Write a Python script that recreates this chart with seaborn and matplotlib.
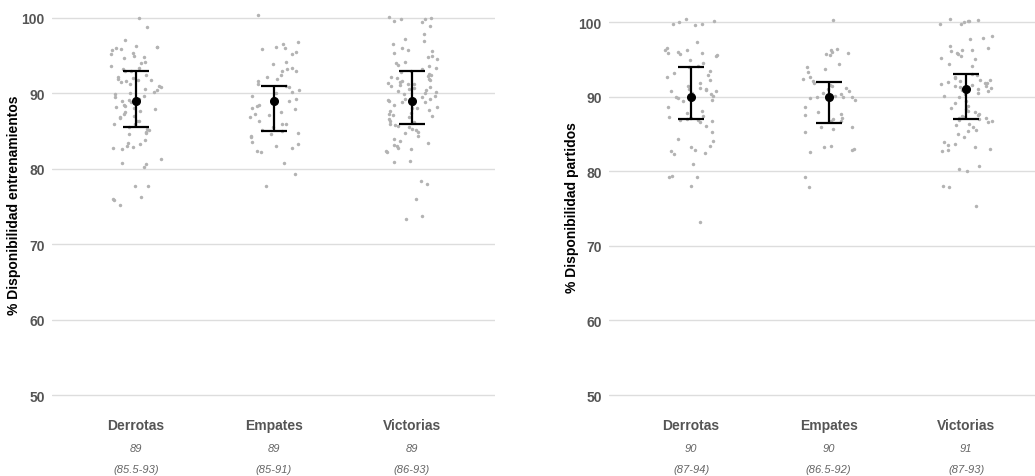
import numpy as np
import pandas as pd
import matplotlib
matplotlib.use("Agg")
import matplotlib.pyplot as plt
import seaborn as sns

categories = ["Derrotas", "Empates", "Victorias"]

# Panel 1: training availability (%)
train_derrotas = [100, 98.8, 97.1, 96.3, 96.2, 96.1, 96.0, 95.9, 95.8, 95.3, 95.2, 95.0, 94.8, 94.7,
                  94.1, 94.0, 93.6, 93.3, 93.2, 93.0, 92.9, 92.5, 92.0, 91.9, 91.8, 91.8, 91.7, 91.5,
                  91.2, 91.0, 90.9, 90.6, 90.5, 90.2, 90.0, 89.9, 89.6, 89.3, 89.1, 89.0, 88.9, 88.7,
                  88.5, 88.3, 88.0, 87.9, 87.7, 87.5, 87.3, 87.0, 86.9, 86.7, 86.4, 86.0, 85.9, 85.6,
                  85.3, 85.2, 84.9, 84.7, 84.6, 83.8, 83.4, 83.3, 83.0, 82.9, 82.7, 82.6, 81.3, 80.7,
                  80.6, 80.2, 77.7, 77.7, 76.2, 76.0, 75.8, 75.2, 92.2, 89.5, 88.2, 86.3]
train_empates = [100.4, 96.8, 96.5, 96.2, 96.0, 95.9, 95.5, 95.2, 94.2, 93.9, 93.4, 93.2, 93.0, 92.9,
                 92.5, 92.2, 91.9, 91.6, 91.3, 91.0, 90.8, 90.5, 90.2, 90.0, 89.6, 89.4, 89.2, 89.0,
                 88.9, 88.8, 88.5, 88.3, 88.1, 87.9, 87.5, 87.3, 87.1, 86.9, 86.4, 86.0, 85.9, 85.5,
                 85.1, 85.0, 84.8, 84.6, 84.4, 84.2, 83.6, 83.3, 83.0, 82.8, 82.4, 82.2, 80.7, 79.3, 77.7]
train_victorias = [100.1, 100.0, 99.9, 99.8, 99.6, 99.5, 98.9, 97.9, 97.2, 96.9, 96.5, 96.0, 95.8, 95.6,
                   95.3, 95.0, 94.8, 94.5, 94.2, 94.0, 93.8, 93.6, 93.4, 93.2, 93.0, 92.8, 92.6, 92.4,
                   92.2, 92.0, 91.9, 91.8, 91.6, 91.5, 91.3, 91.2, 91.0, 90.9, 90.7, 90.5, 90.3, 90.2,
                   90.0, 89.9, 89.7, 89.5, 89.3, 89.1, 89.0, 88.9, 88.8, 88.6, 88.4, 88.2, 88.0, 87.8,
                   87.6, 87.4, 87.2, 87.0, 86.8, 86.6, 86.4, 86.2, 86.0, 85.8, 85.5, 85.3, 85.1, 84.9,
                   84.7, 84.3, 84.0, 83.7, 83.4, 83.2, 83.0, 82.8, 82.6, 82.4, 82.2, 81.0, 80.9, 78.4,
                   78.0, 76.0, 73.7, 73.3, 91.4, 90.6, 89.2, 88.1, 87.1, 85.7, 92.3, 91.1]

# Panel 2: match availability (%)
match_derrotas = [100.4, 100.2, 100.0, 99.8, 99.7, 99.6, 97.3, 96.5, 96.3, 96.2, 96.0, 95.9, 95.8, 95.7,
                  95.6, 95.4, 94.9, 94.5, 94.1, 94.0, 93.5, 93.2, 92.9, 92.6, 92.3, 91.8, 91.5, 91.2,
                  91.0, 90.9, 90.8, 90.5, 90.3, 90.1, 90.0, 89.8, 89.6, 89.4, 88.6, 88.1, 87.8, 87.4,
                  87.2, 87.1, 87.0, 86.9, 86.8, 86.6, 86.1, 85.3, 84.3, 84.1, 83.4, 83.2, 82.9, 82.7,
                  82.4, 82.3, 81.0, 79.4, 79.2, 79.3, 78.0, 73.2, 91.1, 90.7, 87.3, 86.9]
match_empates = [100.3, 96.4, 96.2, 96.0, 95.9, 95.7, 95.6, 94.4, 94.0, 93.7, 93.3, 92.6, 92.4, 92.1,
                 91.9, 91.6, 91.4, 91.2, 91.0, 90.8, 90.5, 90.3, 90.2, 90.1, 90.0, 90.0, 89.9, 89.8,
                 89.7, 89.5, 88.6, 87.9, 87.7, 87.5, 87.2, 87.0, 86.8, 86.7, 86.0, 85.9, 85.7, 85.3,
                 83.4, 83.2, 83.0, 82.8, 82.6, 79.2, 77.9]
match_victorias = [100.4, 100.3, 100.2, 100.1, 100.0, 99.8, 99.7, 98.1, 97.9, 97.7, 96.8, 96.5, 96.3,
                   96.2, 96.1, 95.9, 95.7, 95.5, 95.2, 95.0, 94.4, 94.1, 93.0, 92.9, 92.7, 92.5, 92.3,
                   92.1, 92.0, 91.9, 91.7, 91.5, 91.4, 91.3, 91.2, 91.1, 91.0, 90.9, 90.7, 90.5, 90.3,
                   90.1, 90.0, 89.4, 89.1, 88.8, 88.5, 88.3, 88.1, 87.9, 87.7, 87.5, 87.4, 87.3, 87.2,
                   87.1, 87.0, 86.8, 86.6, 86.4, 86.2, 85.9, 85.6, 85.4, 85.0, 84.6, 83.9, 83.7, 83.5,
                   83.2, 83.0, 82.8, 82.7, 80.7, 80.3, 80.0, 78.0, 77.9, 75.3, 91.6, 91.8, 92.2, 86.9]

# Summary stats (median, Q1, Q3) as labelled
train_median = [89, 89, 89]
train_q1 = [85.5, 85, 86]
train_q3 = [93, 91, 93]
train_median_lbl = ["89", "89", "89"]
train_iqr_lbl = ["(85.5-93)", "(85-91)", "(86-93)"]

match_median = [90, 90, 91]
match_q1 = [87, 86.5, 87]
match_q3 = [94, 92, 93]
match_median_lbl = ["90", "90", "91"]
match_iqr_lbl = ["(87-94)", "(86.5-92)", "(87-93)"]

yticks = [50, 60, 70, 80, 90, 100]

sns.set_theme(style="white")
plt.rcParams["font.family"] = ["Liberation Sans", "DejaVu Sans"]

fig = plt.figure(figsize=(10.35, 4.77), dpi=100)
ax1 = fig.add_axes([0.050, 0.154, 0.428, 0.830])
ax2 = fig.add_axes([0.588, 0.154, 0.412, 0.821])


def panel(ax, groups, med, q1, q3, med_lbl, iqr_lbl, ylabel, xlim, label_x):
    df = pd.DataFrame({
        "cat": np.repeat(categories, [len(g) for g in groups]),
        "val": np.concatenate([np.asarray(g, float) for g in groups]),
    })
    sns.stripplot(data=df, x="cat", y="val", order=categories, ax=ax, color="#b3b3b3",
                  size=2.5, jitter=0.19, linewidth=0, zorder=2)
    xs = np.arange(len(categories))
    med = np.asarray(med, float)
    ax.errorbar(xs, med, yerr=[med - np.asarray(q1), np.asarray(q3) - med], fmt="o",
                color="black", ecolor="black", elinewidth=1.6, capsize=9.5, capthick=1.6,
                markersize=5.5, zorder=5)
    ax.set_ylim(49, 101.5)
    ax.set_xlim(*xlim)
    ax.set_yticks(yticks)
    ax.set_yticklabels([str(t) for t in yticks], fontsize=10, fontweight="bold", color="#555555")
    ax.grid(axis="y", color="#dddddd", linewidth=1.0, zorder=0)
    ax.grid(axis="x", visible=False)
    ax.set_axisbelow(True)
    for s in ax.spines.values():
        s.set_visible(False)
    ax.tick_params(axis="y", length=0, pad=5)
    ax.tick_params(axis="x", length=0, pad=11)
    ax.set_xticks(xs)
    ax.set_xticklabels(categories, fontsize=10, fontweight="bold", color="#555555")
    ax.set_xlabel("")
    ax.set_ylabel(ylabel, fontsize=10, fontweight="bold", color="black")
    ax.yaxis.set_label_coords(label_x, 0.5)
    trans = ax.get_xaxis_transform()
    for i in range(len(categories)):
        ax.annotate(med_lbl[i], xy=(xs[i], 0), xycoords=trans, xytext=(0, -45.5),
                    textcoords="offset pixels", ha="center", va="center",
                    fontsize=8, style="italic", color="#666666")
        ax.annotate(iqr_lbl[i], xy=(xs[i], 0), xycoords=trans, xytext=(0, -66.5),
                    textcoords="offset pixels", ha="center", va="center",
                    fontsize=8, style="italic", color="#666666")


np.random.seed(3)
panel(ax1, [train_derrotas, train_empates, train_victorias], train_median, train_q1, train_q3,
      train_median_lbl, train_iqr_lbl, "% Disponibilidad entrenamientos", (-0.61, 2.6), -0.07)
panel(ax2, [match_derrotas, match_empates, match_victorias], match_median, match_q1, match_q3,
      match_median_lbl, match_iqr_lbl, "% Disponibilidad partidos", (-0.6, 2.5), -0.07)

fig.savefig("out.png", dpi=100)
